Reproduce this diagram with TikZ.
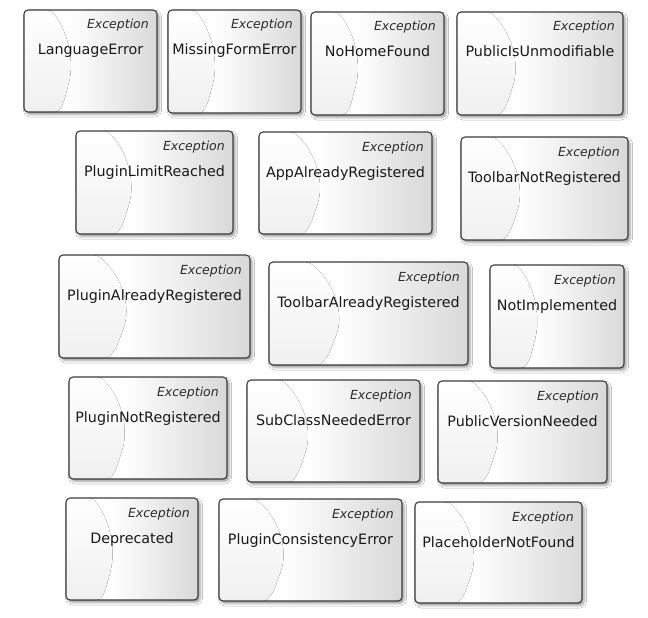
\documentclass[tikz,border=0pt]{standalone}
\usepackage{fontspec}
\setmainfont{DejaVu Sans}
\usetikzlibrary{calc,shadows.blur}
\pgfdeclarehorizontalshading{excshade}{100bp}{color(0bp)=(white); color(25bp)=(white); color(42bp)=(white); color(75bp)=(black!15); color(100bp)=(black!15)}
\definecolor{excborder}{HTML}{3C3C3C}
\definecolor{exctextcol}{HTML}{2A2A2A}
\tikzset{
  excbox/.style={rectangle, rounded corners=4pt, draw=excborder, line width=1.1pt,
    inner sep=0pt, outer sep=0pt, shading=excshade,
    blur shadow={shadow xshift=2pt, shadow yshift=-2.5pt, shadow blur radius=2.5pt, shadow opacity=40},
    path picture={
      \fill[top color=white, bottom color=black!6]
        let \p1=(path picture bounding box.north west), \p2=(path picture bounding box.south east),
            \n1={\x2-\x1}, \n2={\y1-\y2} in
        (\x1,\y1) -- (\x1+0.2*\n1,\y1)
        .. controls (\x1+0.33*\n1,\y1-0.2*\n2) and (\x1+0.38*\n1,\y1-0.5*\n2) ..
        (\x1+0.33*\n1,\y1-0.75*\n2)
        .. controls (\x1+0.3*\n1,\y1-0.9*\n2) .. (\x1+0.26*\n1,\y2)
        -- (\x1,\y2) -- cycle;
    }},
  exclabel/.style={font=\fontsize{12.5}{14}\selectfont\itshape, text=exctextcol, inner sep=0pt, anchor=base east},
  excname/.style={font=\fontsize{14.3}{16}\selectfont, text=black!90, inner sep=0pt, anchor=base}
}
\newcommand{\excnode}[6]{%
  \pgfmathsetmacro{\excw}{#4-#2}%
  \pgfmathsetmacro{\exch}{#5-#3}%
  \node[excbox, minimum width=\excw pt, minimum height=\exch pt, anchor=north west] (#1) at (#2,#3) {};
  \node[exclabel] (#1-st) at ([xshift=-8pt,yshift=-19pt]#1.north east) {Exception};
  \node[excname] (#1-nm) at ([yshift=-45pt]#1.north) {#6};
}
\begin{document}
\begin{tikzpicture}[x=1pt,y=-1pt]
\useasboundingbox[fill=white] (0,0) rectangle (648,618);
\excnode{le}{24}{10}{157}{112}{LanguageError}
\excnode{mf}{168}{10}{301}{113}{MissingFormError}
\excnode{nh}{311}{12}{444}{115}{NoHomeFound}
\excnode{pu}{457}{12}{623}{115}{PublicIsUnmodifiable}
\excnode{pl}{76}{131}{233}{234}{PluginLimitReached}
\excnode{aa}{259}{132}{432}{234}{AppAlreadyRegistered}
\excnode{tn}{461}{137}{628}{240}{ToolbarNotRegistered}
\excnode{pa}{59}{255}{250}{358}{PluginAlreadyRegistered}
\excnode{ta}{269}{262}{468}{365}{ToolbarAlreadyRegistered}
\excnode{ni}{490}{265}{624}{368}{NotImplemented}
\excnode{pn}{69}{377}{227}{479}{PluginNotRegistered}
\excnode{sc}{247}{380}{420}{482}{SubClassNeededError}
\excnode{pv}{438}{381}{607}{483}{PublicVersionNeeded}
\excnode{de}{66}{498}{198}{600}{Deprecated}
\excnode{pc}{219}{499}{402}{601}{PluginConsistencyError}
\excnode{ph}{415}{502}{582}{603}{PlaceholderNotFound}
\end{tikzpicture}
\end{document}
